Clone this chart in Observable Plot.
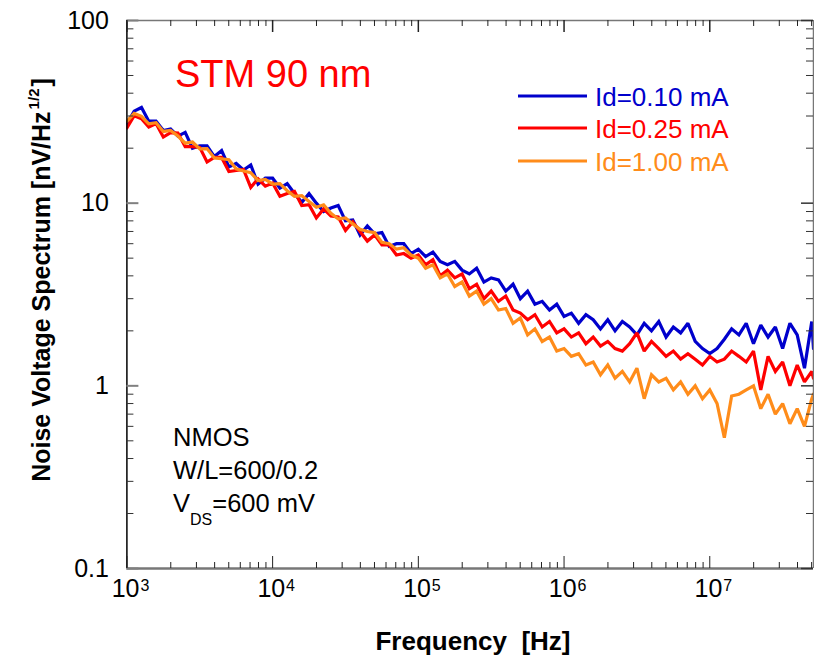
<!DOCTYPE html>
<html><head><meta charset="utf-8">
<script src="https://cdn.jsdelivr.net/npm/d3@7"></script>
<script src="https://cdn.jsdelivr.net/npm/@observablehq/plot@0.6"></script>
<style>body{margin:0;background:#fff;} svg{display:block;}</style>
</head><body><div id="chart"></div>
<script>
// ---- data ----
const freqs = [
  1000,1122,1259,1413,1585,1778,1995,2239,2512,2818,
  3162,3548,3981,4467,5012,5623,6310,7079,7943,8913,
  10000,11220,12589,14125,15849,17783,19953,22387,25119,28184,
  31623,35481,39811,44668,50119,56234,63096,70795,79433,89125,
  100000,112202,125893,141254,158489,177828,199526,223872,251189,281838,
  316228,354813,398107,446684,501187,562341,630957,707946,794328,891251,
  1000000,1122018,1258925,1412538,1584893,1778279,1995262,2238721,2511886,2818383,
  3162278,3548134,3981072,4466836,5011872,5623413,6309573,7079458,7943282,8912509,
  10000000,11220185,12589254,14125375,15848932,17782794,19952623,22387211,25118864,28183829,
  31622777,35481339,39810717,44668359,50118723,51500000
];
const id010 = [
  27.2,31.9,33.4,28.1,28.1,25.0,25.5,23.3,24.4,20.0,
  20.6,20.6,18.0,19.4,15.8,16.5,15.2,16.2,12.7,13.7,
  13.7,12.1,12.8,11.3,10.1,11.3,10.0,9.0,9.4,9.7,
  8.0,8.1,6.7,7.5,6.8,6.9,5.8,6.0,6.0,5.3,
  5.6,5.1,5.4,4.8,4.6,4.8,4.3,4.1,4.4,3.7,
  3.9,3.8,3.3,3.6,3.0,3.3,2.8,2.9,2.6,2.8,
  2.4,2.5,2.2,2.45,2.3,2.05,2.3,2.0,2.25,2.1,
  1.9,2.2,2.0,2.25,1.85,2.1,1.95,2.2,1.75,1.6,
  1.5,1.6,1.8,2.05,1.9,2.2,1.7,2.15,1.85,2.1,
  1.6,2.2,1.9,1.25,2.25,1.6
];
const id025 = [
  25.8,30.1,29.0,26.1,27.3,23.0,24.3,24.2,20.4,20.4,
  20.2,16.8,17.8,17.8,14.9,15.1,15.3,12.2,13.6,12.4,
  12.9,10.9,11.3,11.6,9.7,9.8,8.3,9.3,8.5,8.4,
  7.1,7.9,7.0,6.2,6.7,5.9,5.9,5.2,5.3,5.0,
  5.2,4.6,4.9,4.0,4.3,3.9,4.1,3.4,3.6,3.0,
  3.3,2.9,3.1,2.6,2.5,2.3,2.45,2.1,2.25,1.95,
  2.05,1.85,1.95,1.7,1.85,1.65,1.75,1.6,1.55,1.7,
  1.95,1.55,1.75,1.6,1.45,1.55,1.4,1.5,1.4,1.3,
  1.45,1.35,1.4,1.55,1.45,1.35,1.55,0.95,1.45,1.2,
  1.35,1.0,1.3,1.05,1.2,1.1
];
const id100 = [
  28.0,31.0,29.9,27.2,27.6,24.7,25.0,23.3,21.3,21.6,
  19.8,19.9,17.7,17.5,17.3,15.4,15.0,14.7,13.3,13.5,
  12.7,12.8,11.7,10.9,11.0,10.2,9.5,9.8,8.8,8.2,
  8.3,7.7,7.2,7.0,6.9,6.1,6.0,5.6,5.7,5.2,
  5.0,4.4,4.6,3.9,4.1,3.5,3.7,3.1,3.3,2.8,
  3.0,2.6,2.65,2.2,2.35,1.9,2.05,1.75,1.85,1.55,
  1.6,1.45,1.5,1.3,1.35,1.15,1.3,1.1,1.2,1.05,
  1.25,0.85,1.15,1.05,1.1,0.95,1.05,0.9,1.0,0.85,
  0.95,0.8,0.52,0.88,0.9,0.95,1.0,0.75,0.9,0.7,
  0.8,0.62,0.75,0.6,0.85,0.9
];
const seriesNames = ["Id=0.10 mA", "Id=0.25 mA", "Id=1.00 mA"];
const seriesColors = ["#0000CC", "#FF0000", "#FF8C1A"];
const yMajor = [0.1, 1, 10, 100];
const yLabels = ["0.1", "1", "10", "100"];
const xMajor = [1e3, 1e4, 1e5, 1e6, 1e7];
const xExponents = ["3", "4", "5", "6", "7"];
const mantissas = [2, 3, 4, 5, 6, 7, 8, 9];
const xDomain = [1e3, 5.15e7];
const yDomain = [0.1, 100];

// ---- derived tables ----
const seriesValues = [id010, id025, id100];
const seriesRows = seriesValues.map(vals => freqs.map((f, i) => ({f, v: vals[i]})));
const yMinor = [0.1, 1, 10].flatMap(d => mantissas.map(m => +(m * d).toPrecision(3)));
const xMinor = [1e3, 1e4, 1e5, 1e6, 1e7].flatMap(d => mantissas.map(m => m * d)).filter(v => v <= xDomain[1]);

const W = 814, H = 658, ML = 126.4, MR = 1, MT = 20, MB = 90;
const PW = W - ML - MR, PH = H - MT - MB;
const FONT = "'Liberation Sans', Arial, Helvetica, sans-serif";

const chart = Plot.plot({
  width: W, height: H,
  marginLeft: ML, marginRight: MR, marginTop: MT, marginBottom: MB,
  style: {fontFamily: FONT, background: "#fff", overflow: "visible"},
  x: {type: "log", domain: xDomain, axis: null},
  y: {type: "log", domain: yDomain, axis: null},
  marks: [
    // data lines
    ...seriesRows.map((rows, i) => Plot.lineY(rows, {
      x: "f", y: "v", stroke: seriesColors[i], strokeWidth: 3.2,
      strokeLinejoin: "miter", strokeMiterlimit: 2, clip: true
    })),
    // frame
    Plot.ruleY([yDomain[1]], {stroke: "#777", strokeWidth: 1.5}),
    Plot.ruleY([yDomain[0]], {stroke: "#777", strokeWidth: 2.5}),
    Plot.ruleX([xDomain[0]], {stroke: "#000", strokeWidth: 1.5}),
    Plot.ruleX([xDomain[1]], {stroke: "#777", strokeWidth: 1.5}),
    // y ticks (left, inward)
    Plot.tickY(yMinor, {y: d => d, stroke: "#333", strokeWidth: 1, insetRight: PW - 7}),
    Plot.tickY(yMajor, {y: d => d, stroke: "#808080", strokeWidth: 2, insetRight: PW - 12}),
    // y ticks (right, inward)
    Plot.tickY(yMinor, {y: d => d, stroke: "#333", strokeWidth: 1, insetLeft: PW - 7}),
    Plot.tickY(yMajor, {y: d => d, stroke: "#333", strokeWidth: 1.5, insetLeft: PW - 12}),
    // x ticks (bottom, inward)
    Plot.tickX(xMinor, {x: d => d, stroke: "#222", strokeWidth: 1, insetTop: PH - 6}),
    Plot.tickX(xMajor, {x: d => d, stroke: "#222", strokeWidth: 1, insetTop: PH - 12}),
    // x ticks (top, inward)
    Plot.tickX(xMinor, {x: d => d, stroke: "#222", strokeWidth: 1, insetBottom: PH - 6}),
    Plot.tickX(xMajor, {x: d => d, stroke: "#222", strokeWidth: 1.5, insetBottom: PH - 12}),
    // y tick labels
    Plot.text(yMajor, {y: d => d, text: (d, i) => yLabels[i], frameAnchor: "left",
      dx: -18, textAnchor: "end", fontSize: 25, fill: "#000"}),
    // x tick labels: "10" + exponent
    Plot.text(xMajor, {x: d => d, text: () => "10", frameAnchor: "bottom",
      dx: 12.6, dy: 28.5, textAnchor: "end", fontSize: 25, fill: "#000"}),
    Plot.text(xMajor, {x: d => d, text: (d, i) => xExponents[i], frameAnchor: "bottom",
      dx: 13.5, dy: 22, textAnchor: "start", fontSize: 16, fill: "#000"})
  ]
});
document.getElementById("chart").append(chart);

// ---- annotations, titles, legend ----
const svg = d3.select(chart);
const g = svg.append("g").attr("font-family", FONT).attr("text-anchor", "start");

// x title
g.append("text").attr("x", 473).attr("y", 650).attr("text-anchor", "middle")
  .attr("font-size", 26).attr("font-weight", "bold").attr("fill", "#000")
  .attr("xml:space", "preserve").text("Frequency  [Hz]");

// y title with superscript
const yt = g.append("text").attr("transform", "translate(50,280) rotate(-90)")
  .attr("text-anchor", "middle").attr("font-size", 25).attr("font-weight", "bold").attr("fill", "#000");
yt.append("tspan").text("Noise Voltage Spectrum [nV/Hz");
yt.append("tspan").attr("font-size", 15).attr("dy", -11).attr("dx", 2).text("1/2");
yt.append("tspan").attr("dy", 11).attr("dx", 2).text("]");

// device label
g.append("text").attr("x", 175).attr("y", 87).attr("font-size", 38).attr("fill", "#FF0000").text("STM 90 nm");

// legend
seriesNames.forEach((name, i) => {
  const ly = [96, 128, 161][i];
  g.append("line").attr("x1", 518).attr("x2", 587).attr("y1", ly).attr("y2", ly)
    .attr("stroke", seriesColors[i]).attr("stroke-width", 3);
  g.append("text").attr("x", 595).attr("y", ly + 9.5).attr("font-size", 26)
    .attr("fill", seriesColors[i]).text(name);
});

// device parameters
g.append("text").attr("x", 173).attr("y", 446).attr("font-size", 25.5).attr("fill", "#000").text("NMOS");
g.append("text").attr("x", 173).attr("y", 479).attr("font-size", 25.5).attr("fill", "#000").text("W/L=600/0.2");
const vt = g.append("text").attr("x", 173).attr("y", 512).attr("font-size", 25.5).attr("fill", "#000");
vt.append("tspan").text("V");
vt.append("tspan").attr("font-size", 16).attr("dy", 13).text("DS");
vt.append("tspan").attr("dy", -13).text("=600 mV");
</script>
</body></html>
